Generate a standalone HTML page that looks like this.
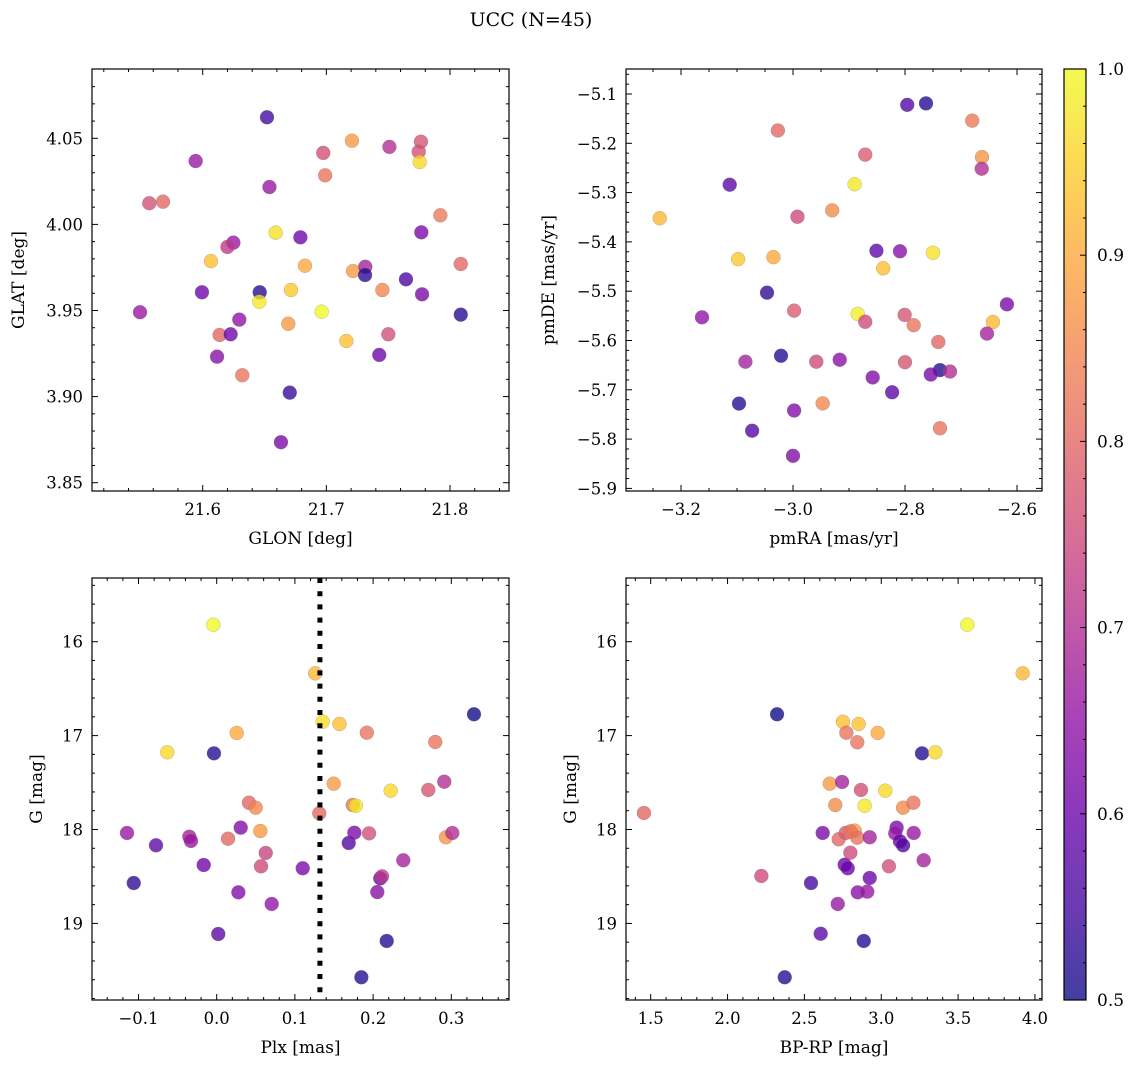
<!DOCTYPE html>
<html><head><meta charset="utf-8"><style>
html,body{margin:0;padding:0;background:#fff;}
svg text{font-family:"DejaVu Serif","Liberation Serif",serif;fill:#000;}
</style></head><body>
<svg id="fig" width="1136" height="1068" viewBox="0 0 1136 1068" xmlns="http://www.w3.org/2000/svg">
<defs><linearGradient id="plasma" x1="0" y1="1" x2="0" y2="0">
<stop offset="0" stop-color="#0d0887"/><stop offset="0.1" stop-color="#41049d"/><stop offset="0.2" stop-color="#6a00a8"/><stop offset="0.3" stop-color="#8f0da4"/><stop offset="0.4" stop-color="#b12a90"/><stop offset="0.5" stop-color="#cc4778"/><stop offset="0.6" stop-color="#e16462"/><stop offset="0.7" stop-color="#f2844b"/><stop offset="0.8" stop-color="#fca636"/><stop offset="0.9" stop-color="#fcce25"/><stop offset="1" stop-color="#f0f921"/>
</linearGradient></defs>
<text x="531" y="26" font-size="19" text-anchor="middle">UCC (N=45)</text>
</svg>
<script>
// ---- Data ----
const glon = [21.652,21.5943,21.6975,21.7207,21.751,21.7765,21.7747,21.7755,21.699,21.654,21.5568,21.5679,21.7922,21.659,21.679,21.7768,21.6248,21.62,21.6067,21.6827,21.7216,21.7315,21.7313,21.8087,21.5994,21.6461,21.6714,21.7644,21.7453,21.7774,21.6458,21.5493,21.6962,21.8087,21.6296,21.6692,21.6137,21.6226,21.7162,21.7501,21.6116,21.7428,21.632,21.6704,21.6633];
const glat = [4.0622,4.0368,4.0415,4.0486,4.045,4.048,4.0422,4.0362,4.0285,4.0217,4.0123,4.0132,4.0053,3.9952,3.9925,3.9954,3.9894,3.9869,3.9787,3.976,3.9729,3.9754,3.9706,3.977,3.9606,3.9606,3.9619,3.9681,3.9619,3.9594,3.9551,3.949,3.9493,3.9476,3.9447,3.9423,3.9358,3.9362,3.9323,3.9362,3.9232,3.9242,3.9124,3.9023,3.8735];
const probGal = [0.55,0.66,0.76,0.88,0.7,0.77,0.76,0.96,0.82,0.66,0.76,0.8,0.83,0.97,0.6,0.62,0.66,0.72,0.93,0.9,0.88,0.68,0.52,0.8,0.6,0.52,0.94,0.56,0.85,0.62,0.98,0.66,1.0,0.52,0.65,0.88,0.8,0.6,0.93,0.76,0.64,0.6,0.82,0.54,0.62];

const pmra = [-2.796,-2.7625,-2.68,-3.027,-2.871,-2.6625,-2.663,-3.113,-2.89,-3.238,-2.992,-2.93,-2.851,-2.809,-2.75,-3.098,-3.035,-2.839,-3.0464,-2.618,-3.1625,-2.998,-2.8845,-2.871,-2.8006,-2.7845,-2.643,-2.6536,-2.7405,-3.085,-3.0214,-2.9584,-2.9166,-2.8,-2.7375,-2.754,-2.7196,-2.8577,-2.823,-3.0964,-2.947,-2.998,-3.073,-2.7375,-3.0];
const pmde = [-5.122,-5.119,-5.154,-5.174,-5.223,-5.228,-5.2515,-5.284,-5.283,-5.352,-5.349,-5.336,-5.418,-5.419,-5.422,-5.435,-5.431,-5.4535,-5.503,-5.5266,-5.553,-5.5395,-5.546,-5.562,-5.548,-5.569,-5.5625,-5.586,-5.603,-5.643,-5.631,-5.643,-5.639,-5.644,-5.66,-5.669,-5.663,-5.675,-5.705,-5.728,-5.7275,-5.742,-5.783,-5.778,-5.834];
const probPm = [0.57,0.52,0.83,0.8,0.78,0.87,0.7,0.58,0.98,0.92,0.75,0.86,0.58,0.64,0.97,0.94,0.9,0.93,0.53,0.62,0.65,0.78,0.99,0.75,0.77,0.82,0.92,0.68,0.8,0.68,0.52,0.75,0.64,0.77,0.52,0.62,0.7,0.63,0.58,0.52,0.85,0.63,0.57,0.82,0.63];

const plx = [-0.0043,0.126,0.329,0.1355,0.157,0.192,0.0256,-0.0632,-0.0035,0.2795,0.1496,0.2225,0.2706,0.291,0.0413,0.0499,0.174,0.178,0.1312,-0.1147,-0.0776,-0.035,-0.0329,0.0145,0.0307,0.0558,0.0627,-0.0166,0.0567,0.11,-0.1061,0.0277,0.0703,0.002,0.1688,0.176,0.1948,0.2932,0.3013,0.2386,0.2092,0.2114,0.2054,0.2174,0.185];
const gPlx = [15.819,16.337,16.773,16.852,16.876,16.969,16.972,17.178,17.189,17.068,17.512,17.587,17.579,17.491,17.715,17.768,17.739,17.747,17.828,18.037,18.168,18.077,18.122,18.098,17.98,18.016,18.25,18.378,18.392,18.413,18.57,18.669,18.793,19.113,18.144,18.034,18.041,18.083,18.037,18.328,18.52,18.499,18.666,19.187,19.574];
const probPlx = [1.0,0.92,0.5,0.97,0.93,0.82,0.9,0.96,0.52,0.82,0.88,0.96,0.77,0.7,0.8,0.85,0.82,0.98,0.8,0.66,0.58,0.68,0.66,0.8,0.63,0.88,0.74,0.6,0.75,0.62,0.53,0.63,0.65,0.58,0.57,0.62,0.76,0.87,0.7,0.68,0.58,0.72,0.64,0.52,0.52];
const plxLine = 0.132;

const bprp = [3.56,3.92,2.322,2.751,2.853,2.977,2.773,2.844,3.265,3.352,2.665,2.745,2.868,3.026,2.701,2.892,3.142,3.209,1.456,2.619,2.723,2.769,2.827,2.844,2.925,3.1,3.091,3.122,3.142,3.211,2.799,2.762,2.782,3.05,3.276,2.22,2.543,2.925,2.847,2.909,2.717,2.606,2.886,2.372,2.80];
const gCmd = [15.819,16.337,16.773,16.852,16.876,16.972,16.969,17.071,17.189,17.178,17.512,17.494,17.579,17.587,17.739,17.747,17.768,17.715,17.824,18.037,18.104,18.037,18.012,18.087,18.083,17.98,18.041,18.126,18.168,18.037,18.247,18.375,18.413,18.392,18.328,18.495,18.57,18.516,18.669,18.662,18.793,19.11,19.187,19.574,18.02];
const probCmd = [1.0,0.92,0.5,0.93,0.93,0.9,0.82,0.82,0.52,0.96,0.88,0.68,0.76,0.96,0.86,0.98,0.86,0.82,0.8,0.62,0.8,0.78,0.88,0.82,0.68,0.62,0.66,0.6,0.57,0.66,0.75,0.6,0.6,0.76,0.68,0.75,0.55,0.6,0.64,0.66,0.66,0.58,0.52,0.52,0.82];

const cbTicks = [0.5,0.6,0.7,0.8,0.9,1.0];

// ---- Rendering ----
const NS = "http://www.w3.org/2000/svg";
const svg = document.getElementById('fig');
const stops = [[13,8,135],[65,4,157],[106,0,168],[143,13,164],[177,42,144],[204,71,120],[225,100,98],[242,132,75],[252,166,54],[252,206,37],[240,249,33]];
function plasma(p){
  let t = Math.max(0, Math.min(1, (p-0.5)/0.5))*10;
  let i = Math.min(9, Math.floor(t)), f = t-i;
  const a = stops[i], b = stops[i+1];
  return 'rgb(' + [0,1,2].map(k=>Math.round(a[k]+(b[k]-a[k])*f)).join(',') + ')';
}
function mk(tag, attrs, parent){
  const e = document.createElementNS(NS, tag);
  for (const k in attrs) e.setAttribute(k, attrs[k]);
  (parent||svg).appendChild(e);
  return e;
}
function fmt(v, dec){ const s = v.toFixed(dec); return s.replace('-', '\u2212'); }

function panel(cfg){
  const g = mk('g', {});
  
  
  const L=cfg.L, R=cfg.R, T=cfg.T, B=cfg.B;
  const sx = v => L + (v-cfg.x0)/(cfg.x1-cfg.x0)*(R-L);
  const sy = v => cfg.yinv ? T + (v-cfg.y0)/(cfg.y1-cfg.y0)*(B-T) : B - (v-cfg.y0)/(cfg.y1-cfg.y0)*(B-T);
  const tg = mk('g', {stroke:'#000','stroke-width':1}, g);
  const xmin = Math.min(cfg.x0,cfg.x1), xmax = Math.max(cfg.x0,cfg.x1);
  for (let k=Math.ceil(xmin/cfg.xminor-1e-6); k*cfg.xminor<=xmax+1e-9; k++){
    const v = k*cfg.xminor, x = sx(v);
    if (x<L+0.5||x>R-0.5) continue;
    const maj = Math.abs(v/cfg.xmajor - Math.round(v/cfg.xmajor))<1e-6;
    const len = maj?6:3;
    mk('line',{x1:x,x2:x,y1:B,y2:B-len},tg); mk('line',{x1:x,x2:x,y1:T,y2:T+len},tg);
    if (maj){
      const t = mk('text',{x:x,y:B+24,'font-size':16.5,'text-anchor':'middle'},g);
      t.textContent = fmt(v,cfg.xdec);
      
      
    }
  }
  const ymin = Math.min(cfg.y0,cfg.y1), ymax = Math.max(cfg.y0,cfg.y1);
  for (let k=Math.ceil(ymin/cfg.yminor-1e-6); k*cfg.yminor<=ymax+1e-9; k++){
    const v = k*cfg.yminor, y = sy(v);
    if (y<T+0.5||y>B-0.5) continue;
    const maj = Math.abs(v/cfg.ymajor - Math.round(v/cfg.ymajor))<1e-6;
    const len = maj?6:3;
    mk('line',{x1:L,x2:L+len,y1:y,y2:y},tg); mk('line',{x1:R,x2:R-len,y1:y,y2:y},tg);
    if (maj){
      const t = mk('text',{x:L-9,y:y+6,'font-size':16.5,'text-anchor':'end'},g);
      t.textContent = fmt(v,cfg.ydec);
      
      
    }
  }
  for (let i=0;i<cfg.xs.length;i++){
    const c = mk('circle',{cx:sx(cfg.xs[i]),cy:sy(cfg.ys[i]),r:7,fill:plasma(cfg.ps[i]),'fill-opacity':0.78,stroke:'#777','stroke-width':0.4,'stroke-opacity':0.6},g);
    
    
  }
  if (cfg.vline!==undefined){
    const ln = mk('line',{x1:sx(cfg.vline),x2:sx(cfg.vline),y1:T,y2:B,stroke:'#000','stroke-width':5,'stroke-dasharray':'5 8.2'},g);
    
    
  }
  const fr = mk('rect',{x:L,y:T,width:R-L,height:B-T,fill:'none',stroke:'#000','stroke-width':1.2},g);
  
  
  const xl = mk('text',{x:(L+R)/2,y:B+53,'font-size':17,'text-anchor':'middle'},g);
  xl.textContent = cfg.xlabel;
  
  
  const yl = mk('text',{x:0,y:0,'font-size':17,'text-anchor':'middle',transform:'translate('+cfg.ylx+','+((T+B)/2)+') rotate(-90)'},g);
  yl.textContent = cfg.ylabel;
  
  
}

panel({name:'glon-glat-panel',L:92,R:509,T:69,B:491,
  x0:21.6-(202.7-92)/1236.5, x1:21.6+(509-202.7)/1236.5, y0:4.05-(491-138.3)/1722, y1:4.05+(138.3-69)/1722,
  xmajor:0.1,xminor:0.02,xdec:1,ymajor:0.05,yminor:0.01,ydec:2,xs:glon,ys:glat,ps:probGal,
  xlabel:'GLON [deg]',ylabel:'GLAT [deg]',ylx:24});
panel({name:'proper-motion-panel',L:626,R:1042,T:69,B:491,
  x0:-3.2-(681-626)/560, x1:-3.2+(1042-681)/560, y0:-5.1-(491-94)/493, y1:-5.1+(94-69)/493,
  xmajor:0.2,xminor:0.05,xdec:1,ymajor:0.1,yminor:0.02,ydec:1,xs:pmra,ys:pmde,ps:probPm,
  xlabel:'pmRA [mas/yr]',ylabel:'pmDE [mas/yr]',ylx:554});
panel({name:'parallax-magnitude-panel',L:92,R:509,T:578,B:1000,
  x0:(92-216.7)/782, x1:(509-216.7)/782, y0:16-(641.7-578)/93.9, y1:16+(1000-641.7)/93.9, yinv:true,
  xmajor:0.1,xminor:0.02,xdec:1,ymajor:1,yminor:0.2,ydec:0,xs:plx,ys:gPlx,ps:probPlx,vline:plxLine,
  xlabel:'Plx [mas]',ylabel:'G [mag]',ylx:42});
panel({name:'color-magnitude-panel',L:626,R:1042,T:578,B:1000,
  x0:1.5-(650.7-626)/153.7, x1:1.5+(1042-650.7)/153.7, y0:16-(641.7-578)/93.9, y1:16+(1000-641.7)/93.9, yinv:true,
  xmajor:0.5,xminor:0.1,xdec:1,ymajor:1,yminor:0.2,ydec:0,xs:bprp,ys:gCmd,ps:probCmd,
  xlabel:'BP-RP [mag]',ylabel:'G [mag]',ylx:576});

const cb = mk('g',{});


const cT=69, cB=1000, cL=1064, cR=1086;
const cy = v => cB - (v-0.5)/0.5*(cB-cT);
mk('rect',{x:cL,y:cT,width:cR-cL,height:cB-cT,fill:'url(#plasma)','fill-opacity':0.78},cb);
mk('rect',{x:cL,y:cT,width:cR-cL,height:cB-cT,fill:'none',stroke:'#000','stroke-width':1.2},cb);
for (let k=25;k<=50;k++){
  const v = k*0.02, y = cy(v);
  const maj = (k%5===0);
  if (y>cT+0.5 && y<cB-0.5) mk('line',{x1:cR,x2:cR-(maj?6:3),y1:y,y2:y,stroke:'#000','stroke-width':1},cb);
}
cbTicks.forEach(v=>{
  const t = mk('text',{x:1097,y:cy(v)+6,'font-size':17},cb);
  t.textContent = v.toFixed(1);
  
  
});
</script>
</body></html>
